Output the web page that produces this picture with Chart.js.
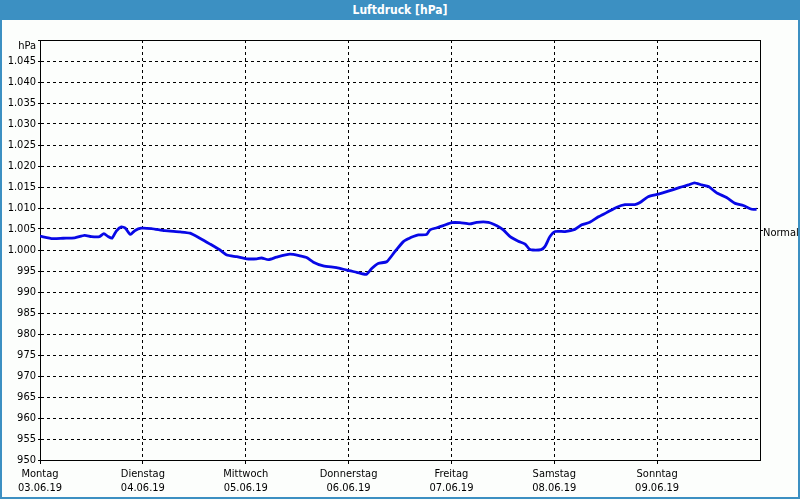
<!DOCTYPE html>
<html>
<head>
<meta charset="utf-8">
<script src="https://cdn.jsdelivr.net/npm/chart.js@4"></script>
<style>
  html, body { margin: 0; padding: 0; background: #fcfefc; }
  #rahmen {
    position: relative; width: 800px; height: 499px; box-sizing: border-box;
    border: 2px solid #3c90c2; border-top: none; background: #fcfefc;
  }
  #titel {
    position: absolute; left: -2px; top: 0; width: 800px; height: 20px;
    background: #3c90c2; color: #fff; font: bold 12px 'DejaVu Sans Condensed', 'DejaVu Sans', sans-serif;
    text-align: center; line-height: 20px;
  }
  #GraficoDruck { position: absolute; left: -2px; top: 0; }
</style>
</head>
<body>
<div id="rahmen">
  <div id="titel">Luftdruck [hPa]</div>
  <canvas id="GraficoDruck" width="800" height="500"></canvas>
</div>
<script>
// Wochentage und Datum fuer die x-Achse
const tage = ['Montag', 'Dienstag', 'Mittwoch', 'Donnerstag', 'Freitag', 'Samstag', 'Sonntag'];
const daten = ['03.06.19', '04.06.19', '05.06.19', '06.06.19', '07.06.19', '08.06.19', '09.06.19'];

// Stunden seit Montag 00:00 und Luftdruck in hPa
const stunden = [0, 3.0, 5.4, 8.1, 10.4, 12.0, 13.9, 14.9, 15.9, 16.8, 17.8, 19.0, 19.9, 21.1, 22.1, 23.6,
  26.0, 29.1, 32.7, 35.0, 37.3, 39.7, 42.0, 43.6, 45.9, 48.2, 50.6, 51.7, 53.3, 55.2, 58.3,
  60.7, 62.2, 63.8, 66.1, 69.2, 71.6, 73.9, 76.1, 77.4, 78.9, 80.9, 82.8, 84.8, 86.2, 87.1,
  88.3, 90.2, 91.0, 92.6, 94.1, 96.1, 98.0, 100.3, 101.9, 104.6, 106.6, 108.1, 109.7, 111.6,
  113.2, 114.2, 115.0, 116.9, 117.8, 119.0, 120.2, 122.5, 124.8, 126.4, 128.3, 130.3, 132.2,
  134.6, 136.5, 138.8, 140.0, 141.9, 144.3, 146.6, 149.3, 151.3, 152.7, 154.4, 156.0, 157.9,
  160.2, 162.2, 164.1, 166.1, 167.2];
const luftdruck = [1003.3, 1002.7, 1002.8, 1002.9, 1003.5, 1003.2, 1003.2, 1003.9, 1003.2, 1002.8, 1004.5, 1005.5, 1005.2, 1003.7, 1004.6, 1005.2,
  1005.1, 1004.6, 1004.3, 1004.0, 1002.8, 1001.4, 1000.0, 998.8, 998.4, 997.9, 997.9, 998.1, 997.7, 998.3, 999.0,
  998.6, 998.2, 997.1, 996.2, 995.8, 995.2, 994.7, 994.2, 995.6, 996.8, 997.2, 999.6, 1002.0, 1002.8, 1003.2,
  1003.6, 1003.7, 1004.8, 1005.3, 1005.8, 1006.5, 1006.5, 1006.2, 1006.6, 1006.6, 1005.8, 1004.8, 1003.2, 1002.1,
  1001.4, 1000.2, 1000.0, 1000.1, 1000.8, 1003.2, 1004.4, 1004.4, 1004.9, 1006.0, 1006.6, 1007.9, 1008.9,
  1010.2, 1010.8, 1010.8, 1011.3, 1012.7, 1013.3, 1014.0, 1014.9, 1015.5, 1016.0, 1015.5, 1015.1, 1013.6,
  1012.5, 1011.1, 1010.6, 1009.7, 1009.7];
const normalDruck = 1004.7;

const SCHRIFT = "'DejaVu Sans Condensed', 'DejaVu Sans', sans-serif";

function formatDruck(v) {
  if (v >= 1000) {
    return Math.floor(v / 1000) + '.' + String(v % 1000).padStart(3, '0');
  }
  return String(v);
}

const extras = {
  id: 'extras',
  beforeDatasetsDraw(chart) {
    const ctx = chart.ctx;
    const a = chart.chartArea;
    ctx.save();
    ctx.strokeStyle = '#000';
    ctx.lineWidth = 1;
    ctx.setLineDash([]);
    ctx.strokeRect(Math.round(a.left) + 0.5, Math.round(a.top) + 0.5, Math.round(a.right - a.left), Math.round(a.bottom - a.top));
    // Normal-Markierung rechts
    const yN = Math.round(chart.scales.y.getPixelForValue(normalDruck)) + 0.5;
    ctx.beginPath();
    ctx.moveTo(a.right, yN);
    ctx.lineTo(a.right + 3, yN);
    ctx.stroke();
    ctx.fillStyle = '#000';
    ctx.font = '11px ' + SCHRIFT;
    ctx.textAlign = 'left';
    ctx.textBaseline = 'middle';
    ctx.fillText('Normal', a.right + 3, yN + 3);
    // Einheit oben links
    ctx.textAlign = 'right';
    ctx.fillText('hPa', a.left - 4, a.top + 6);
    ctx.restore();
  }
};

document.addEventListener('DOMContentLoaded', function () {
  const puntos = stunden.map((h, i) => ({ x: h, y: luftdruck[i] }));
  const ctx = document.getElementById('GraficoDruck').getContext('2d');
  new Chart(ctx, {
    type: 'line',
    data: {
      datasets: [{
        data: puntos,
        borderColor: 'rgb(8, 8, 230)',
        borderWidth: 2.8,
        pointRadius: 0,
        tension: 0.2,
        fill: false
      }]
    },
    options: {
      responsive: false,
      animation: false,
      devicePixelRatio: 1,
      layout: { padding: { top: 40, right: 40, left: 0, bottom: 0 } },
      plugins: {
        legend: { display: false },
        tooltip: { enabled: false }
      },
      scales: {
        x: {
          type: 'linear',
          min: 0,
          max: 168,
          afterFit: function (scale) { scale.height = 40; },
          afterBuildTicks: function (scale) {
            scale.ticks = [0, 24, 48, 72, 96, 120, 144, 168].map(v => ({ value: v }));
          },
          ticks: {
            autoSkip: false,
            maxRotation: 0,
            padding: 3,
            color: '#000',
            font: { family: SCHRIFT, size: 11, lineHeight: 1.27 },
            callback: function (v) {
              const i = Math.round(v / 24);
              return i < 7 ? [tage[i], daten[i]] : '';
            }
          },
          grid: {
            color: '#000',
            lineWidth: 1,
            tickLength: 4,
            tickColor: c => (c.tick && c.tick.value >= 168) ? 'rgba(0,0,0,0)' : '#000'
          },
          border: { color: '#000', dash: [3, 3] }
        },
        y: {
          min: 950,
          max: 1050,
          afterFit: function (scale) { scale.width = 40; },
          ticks: {
            stepSize: 5,
            padding: 2,
            color: '#000',
            font: { family: SCHRIFT, size: 11 },
            callback: function (v) { return v >= 1050 ? '' : formatDruck(v); }
          },
          grid: { color: '#000', lineWidth: 1, tickLength: 2 },
          border: { color: '#000', dash: [3, 3] }
        }
      }
    },
    plugins: [extras]
  });
});
</script>
</body>
</html>
